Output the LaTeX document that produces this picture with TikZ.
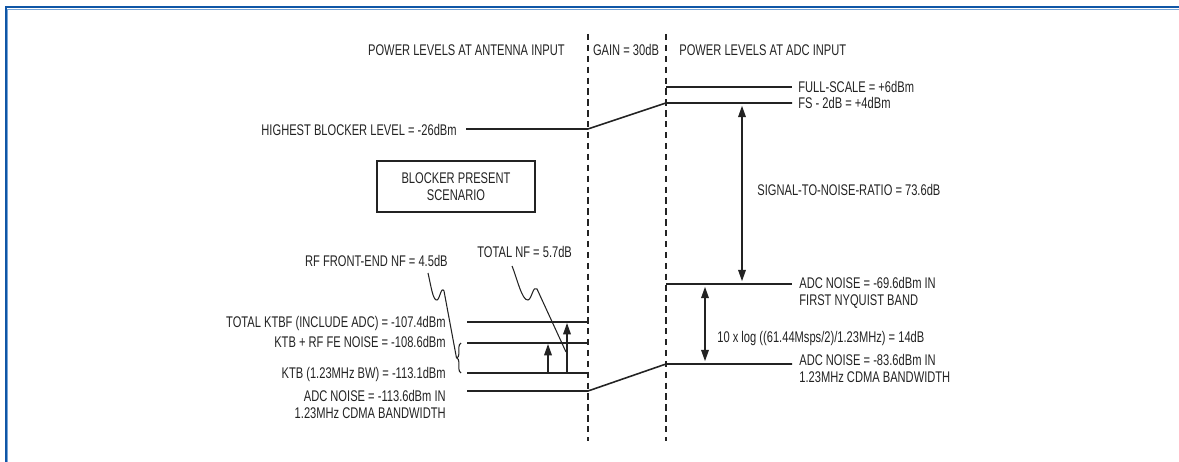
\documentclass[tikz,border=0pt]{standalone}
\usepackage{fontspec}
\setmainfont{Liberation Sans}[FakeStretch=0.72]
\usetikzlibrary{arrows.meta,decorations.pathreplacing}
\definecolor{frameblue}{RGB}{16,86,166}
\definecolor{framelight}{RGB}{120,165,215}
\definecolor{ink}{RGB}{35,35,35}
\tikzset{
  lvl/.style={ink, line width=0.9pt},
  guide/.style={ink, line width=0.7pt, dash pattern=on 3.6pt off 2.6pt},
  uparrow/.style={ink, -{Triangle[length=6.5pt,width=4.4pt]}, line width=0.7pt},
  twoarrow/.style={ink, {Triangle[length=6.5pt,width=4.4pt]}-{Triangle[length=6.5pt,width=4.4pt]}, line width=0.7pt, shorten <=1.6pt, shorten >=1.6pt},
  leader/.style={ink, line width=0.6pt},
  lbl/.style={inner sep=0pt, text=ink, font=\fontsize{8.8}{9.4}\selectfont},
  scenario/.style={draw=ink, line width=0.7pt, minimum width=3.16cm, minimum height=1.02cm, align=center, inner sep=0pt, text=ink, font=\fontsize{8.8}{9.6}\selectfont}
}

\begin{document}
\begin{tikzpicture}[x=0.02cm, y=-0.02cm]
    \useasboundingbox (0,0) rectangle (1179,462);
    % frame
    \draw[frameblue, line width=1.1pt] (6,462) -- (6,7.3) -- (1179,7.3);
    \draw[framelight, line width=0.4pt] (7.6,462) -- (7.6,9) -- (1179,9);

    % headings
    \node[lbl, anchor=base east] (hant) at (565,56) {POWER LEVELS AT ANTENNA INPUT};
    \node[lbl, anchor=base] (hgain) at (626,56) {GAIN = 30dB};
    \node[lbl, anchor=base west] (hadc) at (679,56) {POWER LEVELS AT ADC INPUT};

    % stage boundaries
    \coordinate (antT) at (588,34);
    \coordinate (antB) at (588,441);
    \coordinate (adcT) at (666,34);
    \coordinate (adcB) at (666,441);
    \draw[guide] (antT) -- (antB);
    \draw[guide] (adcT) -- (adcB);

    % levels at antenna input
    \coordinate (blkL) at (466,129);
    \coordinate (blkR) at (588,129);
    \coordinate (ktbfL) at (467,322);
    \coordinate (ktbfR) at (588,322);
    \coordinate (ktbrfL) at (467,343);
    \coordinate (ktbrfR) at (588,343);
    \coordinate (ktbL) at (467,373);
    \coordinate (ktbR) at (588,373);
    \coordinate (nadcL) at (467,391);
    \coordinate (nadcR) at (588,391);

    % levels at ADC input
    \coordinate (fscL) at (666,87);
    \coordinate (fscR) at (792,87);
    \coordinate (fsL) at (666,103);
    \coordinate (fsR) at (792,103);
    \coordinate (nyqL) at (666,284);
    \coordinate (nyqR) at (792,284);
    \coordinate (cdmaL) at (666,364);
    \coordinate (cdmaR) at (792,364);

    \draw[lvl] (blkL) -- (blkR) -- (fsL) -- (fsR);
    \draw[lvl] (fscL) -- (fscR);
    \draw[lvl] (ktbfL) -- (ktbfR);
    \draw[lvl] (ktbrfL) -- (ktbrfR);
    \draw[lvl] (ktbL) -- (ktbR);
    \draw[lvl] (nadcL) -- (nadcR) -- (cdmaL) -- (cdmaR);
    \draw[lvl] (nyqL) -- (nyqR);

    % labels, antenna side
    \node[lbl, anchor=base east] (blk) at (457,135.5) {HIGHEST BLOCKER LEVEL = -26dBm};
    \node[lbl, anchor=base east] (ktbf) at (446,327.5) {TOTAL KTBF (INCLUDE ADC) = -107.4dBm};
    \node[lbl, anchor=base east] (ktbrf) at (446,347.5) {KTB + RF FE NOISE = -108.6dBm};
    \node[lbl, anchor=base east] (ktb) at (446,378.5) {KTB (1.23MHz BW) = -113.1dBm};
    \node[lbl, anchor=base east, align=right] (nadc) at (446,418.5) {ADC NOISE = -113.6dBm IN\\1.23MHz CDMA BANDWIDTH};
    \node[scenario] (case) at (456,186.5) {BLOCKER PRESENT\\SCENARIO};

    % labels, ADC side
    \node[lbl, anchor=base west] (fsc) at (798,92.5) {FULL-SCALE = +6dBm};
    \node[lbl, anchor=base west] (fs) at (798,108.5) {FS - 2dB = +4dBm};
    \node[lbl, anchor=base west] (snr) at (757,195.5) {SIGNAL-TO-NOISE-RATIO = 73.6dB};
    \node[lbl, anchor=base west, align=left] (nyq) at (799,305.5) {ADC NOISE = -69.6dBm IN\\FIRST NYQUIST BAND};
    \node[lbl, anchor=base west] (proc) at (717,342) {10 x log ((61.44Msps/2)/1.23MHz) = 14dB};
    \node[lbl, anchor=base west, align=left] (cdma) at (799,382.5) {ADC NOISE = -83.6dBm IN\\1.23MHz CDMA BANDWIDTH};

    % ratios
    \coordinate (snrT) at (742,103);
    \coordinate (snrB) at (742,284);
    \coordinate (pgT) at (705,284);
    \coordinate (pgB) at (705,364);
    \draw[twoarrow] (snrT) -- (snrB);
    \draw[twoarrow] (pgT) -- (pgB);

    \coordinate (rfB) at (548,373);
    \coordinate (rfT) at (548,344);
    \coordinate (totB) at (567,373);
    \coordinate (totT) at (567,323);
    \draw[uparrow] (rfB) -- (rfT);
    \draw[uparrow] (totB) -- (totT);

    % noise figure callouts
    \coordinate (brB) at (461,373);
    \coordinate (brT) at (461,343);
    \coordinate (brTip) at (456.5,358);
    \draw[leader, decorate, decoration={brace, amplitude=2.4pt}] (brB) -- (brT);

    \node[lbl, anchor=base east] (rfnf) at (448,266.5) {RF FRONT-END NF = 4.5dB};
    \node[lbl, anchor=base west] (totnf) at (477,257.5) {TOTAL NF = 5.7dB};
    \coordinate (rfnfS) at (428,273);
    \coordinate (totnfS) at (512,266);
    \coordinate (totE) at (566,352);
    \draw[leader] (rfnfS) .. controls (431,286) and (433,301) .. (437,300)
      .. controls (440,299) and (441,286) .. (444,291) -- (brTip);
    \draw[leader] (totnfS) .. controls (517,278) and (522,301) .. (528,300)
      .. controls (532,299) and (533,285) .. (537,289) -- (totE);
\end{tikzpicture}
\end{document}
